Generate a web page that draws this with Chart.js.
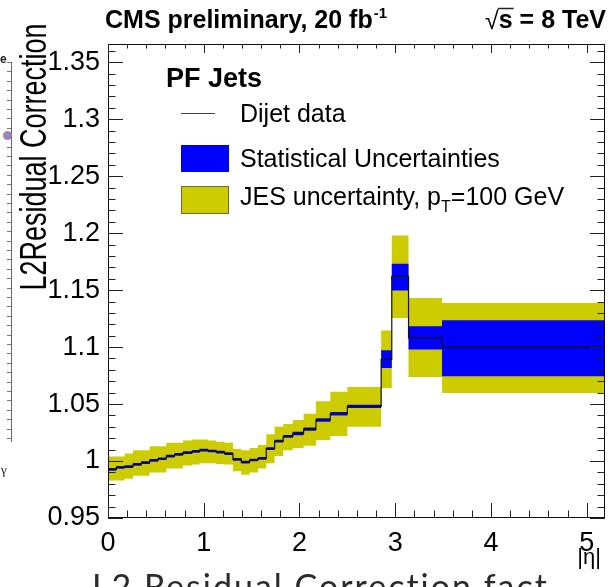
<!DOCTYPE html>
<html><head><meta charset="utf-8">
<script src="https://cdn.jsdelivr.net/npm/chart.js@4/dist/chart.umd.min.js"></script>
<style>
html,body{margin:0;padding:0;background:#fff;overflow:hidden}
#wrap{position:relative;width:616px;height:587px;overflow:hidden}
canvas{position:absolute;left:0;top:0}
#foot{position:absolute;left:92px;top:566px;font-family:Lato,"Open Sans",sans-serif;font-size:34px;color:#2b2b2b;white-space:nowrap;line-height:40px;letter-spacing:2px}
#frag{position:absolute;left:4px;top:62px;width:7px;height:380px;border-right:1px solid #666;
 background:repeating-linear-gradient(to bottom,#777 0,#777 1px,transparent 1px,transparent 9.4px);background-size:4px 100%;background-repeat:repeat-y;background-position:right top}
#dot{position:absolute;left:3px;top:131px;width:7px;height:7px;border-radius:50%;background:#7f8fd8;border:1px solid #e06060}
#frage{position:absolute;left:0px;top:52px;font:bold 12px "Liberation Sans",Arial,sans-serif;color:#222}
#fragg{position:absolute;left:1px;top:462px;font:13px "Liberation Serif",serif;color:#222}
</style></head><body>
<div id="wrap">
<canvas id="c" width="616" height="587"></canvas>
<div id="frag"></div><div id="dot"></div><div id="frage">e</div><div id="fragg">&#947;</div>
<div id="foot">L2 Residual Correction fact</div>
</div>
<script>
// ---- data ----
const etaEdges = [0, 0.087, 0.174, 0.261, 0.348, 0.435, 0.522, 0.609, 0.696, 0.783, 0.879, 0.957, 1.044, 1.131, 1.218, 1.305, 1.392, 1.479, 1.566, 1.653, 1.740, 1.830, 1.930, 2.043, 2.172, 2.322, 2.500, 2.650, 2.853, 2.964, 3.139, 3.489, 5.191];
const dijet    = [0.9927, 0.9945, 0.9950, 0.9970, 0.9985, 1.0006, 1.0020, 1.0044, 1.0058, 1.0073, 1.0085, 1.0095, 1.0088, 1.0079, 1.0064, 1.0015, 0.9991, 1.0009, 1.0023, 1.0108, 1.0175, 1.0216, 1.0242, 1.0280, 1.0360, 1.0415, 1.0480, 1.0480, 1.0893, 1.1620, 1.1080, 1.0998];
const statLow  = [0.9915, 0.9933, 0.9938, 0.9958, 0.9973, 0.9994, 1.0008, 1.0032, 1.0046, 1.0061, 1.0073, 1.0083, 1.0076, 1.0067, 1.0052, 1.0003, 0.9979, 0.9997, 1.0011, 1.0096, 1.0163, 1.0204, 1.0227, 1.0265, 1.0345, 1.0400, 1.0465, 1.0465, 1.0817, 1.1497, 1.0978, 1.0744];
const statHigh = [0.9939, 0.9957, 0.9962, 0.9982, 0.9997, 1.0018, 1.0032, 1.0056, 1.0070, 1.0085, 1.0097, 1.0107, 1.0100, 1.0091, 1.0076, 1.0027, 1.0003, 1.0021, 1.0035, 1.0120, 1.0187, 1.0228, 1.0257, 1.0295, 1.0375, 1.0430, 1.0495, 1.0495, 1.0972, 1.1731, 1.1182, 1.1235];
const jesLow   = [0.9830, 0.9830, 0.9845, 0.9870, 0.9870, 0.9900, 0.9900, 0.9935, 0.9935, 0.9960, 0.9970, 0.9980, 0.9980, 0.9975, 0.9970, 0.9910, 0.9880, 0.9900, 0.9935, 0.9980, 1.0045, 1.0095, 1.0115, 1.0135, 1.0185, 1.0220, 1.0300, 1.0300, 1.0640, 1.1255, 1.0738, 1.0598];
const jesHigh  = [1.0040, 1.0040, 1.0065, 1.0095, 1.0095, 1.0130, 1.0130, 1.0160, 1.0160, 1.0180, 1.0190, 1.0190, 1.0180, 1.0170, 1.0160, 1.0105, 1.0095, 1.0115, 1.0140, 1.0235, 1.0300, 1.0325, 1.0360, 1.0415, 1.0525, 1.0607, 1.0650, 1.0650, 1.1145, 1.1980, 1.1430, 1.1386];
const xTickValues = [0, 1, 2, 3, 4, 5];
const xTickLabels = ['0', '1', '2', '3', '4', '5'];
const yTickValues = [0.95, 1.0, 1.05, 1.1, 1.15, 1.2, 1.25, 1.3, 1.35];
const yTickLabels = ['0.95', '1', '1.05', '1.1', '1.15', '1.2', '1.25', '1.3', '1.35'];

const FONT = '"Liberation Sans", Arial, Helvetica, sans-serif';

function histPoints(vals) {
  const n = vals.length;
  const pts = vals.map((v, i) => ({x: etaEdges[i], y: v}));
  pts.push({x: etaEdges[n], y: vals[n - 1]});
  return pts;
}
const band = (vals, extra) => Object.assign({
  data: histPoints(vals), stepped: 'before', pointRadius: 0, borderWidth: 0,
  borderColor: 'rgba(0,0,0,0)', tension: 0, fill: false
}, extra);

const rootDeco = {
  id: 'rootDeco',
  afterDraw(chart) {
    const ctx = chart.ctx, a = chart.chartArea;
    const xs = chart.scales.x, ys = chart.scales.y;
    ctx.save();
    // frame
    ctx.strokeStyle = '#111'; ctx.lineWidth = 1;
    ctx.strokeRect(Math.round(a.left) + 0.5, Math.round(a.top) + 0.5, Math.round(a.right - a.left) - 1, Math.round(a.bottom - a.top) - 1);
    // ticks (inside, on all four sides)
    ctx.beginPath();
    for (let k = 0; k <= 26; k++) {
      const v = k * 0.2; if (v > xs.max) break;
      const px = Math.round(xs.getPixelForValue(v)) + 0.5;
      const len = (k % 5 === 0) ? 15 : 7.5;
      ctx.moveTo(px, a.bottom); ctx.lineTo(px, a.bottom - len);
      ctx.moveTo(px, a.top); ctx.lineTo(px, a.top + len * 0.6);
    }
    for (let k = 95; k <= 136; k++) {
      const v = k / 100; if (v > ys.max) break;
      const py = Math.round(ys.getPixelForValue(v)) + 0.5;
      const len = (k % 5 === 0) ? 15 : 7.5;
      ctx.moveTo(a.left, py); ctx.lineTo(a.left + len, py);
      ctx.moveTo(a.right, py); ctx.lineTo(a.right - len, py);
    }
    ctx.strokeStyle = '#222'; ctx.stroke();

    ctx.fillStyle = '#000';
    ctx.textBaseline = 'alphabetic';
    // header
    ctx.font = 'bold 25px ' + FONT; ctx.textAlign = 'left';
    ctx.fillText('CMS preliminary, 20 fb', 105, 28);
    let w = ctx.measureText('CMS preliminary, 20 fb').width;
    ctx.font = 'bold 15px ' + FONT;
    ctx.fillText('-1', 105 + w + 1, 18);
    // sqrt(s) = 8 TeV
    ctx.font = 'bold 25px ' + FONT; ctx.textAlign = 'right';
    const rest = ' = 8 TeV';
    ctx.fillText(rest, 606, 28);
    const wr = ctx.measureText(rest).width;
    const ws = ctx.measureText('s').width;
    ctx.fillText('s', 606 - wr, 28);
    ctx.font = '25px ' + FONT;
    ctx.fillText('\u221A', 606 - wr - ws, 29);
    ctx.beginPath(); ctx.lineWidth = 1.5;
    ctx.moveTo(606 - wr - ws - 1, 8.5); ctx.lineTo(606 - wr + 1, 8.5); ctx.stroke();
    // y title (glyphs a little taller, like the reference)
    ctx.save();
    ctx.translate(46, 157); ctx.rotate(-Math.PI / 2); ctx.scale(1, 1.35);
    ctx.font = '27px ' + FONT; ctx.textAlign = 'center';
    ctx.fillText('L2Residual Correction', 0, 0);
    ctx.restore();
    // x title
    ctx.font = '22px ' + FONT; ctx.textAlign = 'right';
    ctx.fillText('|\u03B7|', 601, 564);
    // legend
    ctx.textAlign = 'left';
    ctx.font = 'bold 27px ' + FONT;
    ctx.fillText('PF Jets', 166, 87);
    ctx.beginPath(); ctx.strokeStyle = '#444'; ctx.lineWidth = 1.2;
    ctx.moveTo(181, 113.5); ctx.lineTo(215, 113.5); ctx.stroke();
    ctx.font = '25px ' + FONT;
    ctx.fillText('Dijet data', 240, 122);
    ctx.fillStyle = '#0000ff';
    ctx.fillRect(181, 145, 48, 27);
    ctx.fillStyle = '#000';
    ctx.fillText('Statistical Uncertainties', 240, 167);
    ctx.fillStyle = '#cccc00';
    ctx.fillRect(181, 186, 48, 28);
    ctx.strokeStyle = '#6b6b3a'; ctx.lineWidth = 1;
    ctx.strokeRect(181.5, 186.5, 47, 27);
    ctx.fillStyle = '#000';
    const t1 = 'JES uncertainty, p';
    ctx.fillText(t1, 240, 205);
    const w1 = ctx.measureText(t1).width;
    ctx.font = '16px ' + FONT;
    ctx.fillText('T', 240 + w1, 212);
    const w2 = ctx.measureText('T').width;
    ctx.font = '25px ' + FONT;
    ctx.fillText('=100 GeV', 240 + w1 + w2, 205);
    ctx.restore();
  }
};

new Chart(document.getElementById('c'), {
  type: 'line',
  data: {
    datasets: [
      band(jesHigh, {label: 'JES high', order: 3}),
      band(jesLow, {label: 'JES uncertainty', order: 3, fill: {target: 0}, backgroundColor: '#cccc00'}),
      band(statHigh, {label: 'Stat high', order: 2}),
      band(statLow, {label: 'Statistical Uncertainties', order: 2, fill: {target: 2}, backgroundColor: '#0000ff'}),
      band(dijet, {label: 'Dijet data', order: 1, borderWidth: 1.2, borderColor: '#111'})
    ]
  },
  options: {
    responsive: false, animation: false, devicePixelRatio: 1,
    layout: {padding: {left: 0, right: 11, top: 44, bottom: 0}},
    plugins: {legend: {display: false}, tooltip: {enabled: false}, filler: {propagate: false}},
    scales: {
      x: {
        type: 'linear', min: 0, max: 5.191,
        grid: {display: false, drawTicks: false}, border: {display: false},
        afterBuildTicks: s => { s.ticks = xTickValues.map(v => ({value: v})); },
        afterFit: s => { s.height = 69; },
        ticks: {padding: 9, color: '#000', font: {family: FONT, size: 27}, maxRotation: 0, autoSkip: false,
                callback: (v, i) => xTickLabels[i]}
      },
      y: {
        type: 'linear', min: 0.95, max: 1.366,
        grid: {display: false, drawTicks: false}, border: {display: false},
        afterBuildTicks: s => { s.ticks = yTickValues.map(v => ({value: v})); },
        afterFit: s => { s.width = 108; },
        ticks: {padding: 8, color: '#000', font: {family: FONT, size: 27}, autoSkip: false,
                callback: (v, i) => yTickLabels[i]}
      }
    }
  },
  plugins: [rootDeco]
});
</script>
</body></html>
